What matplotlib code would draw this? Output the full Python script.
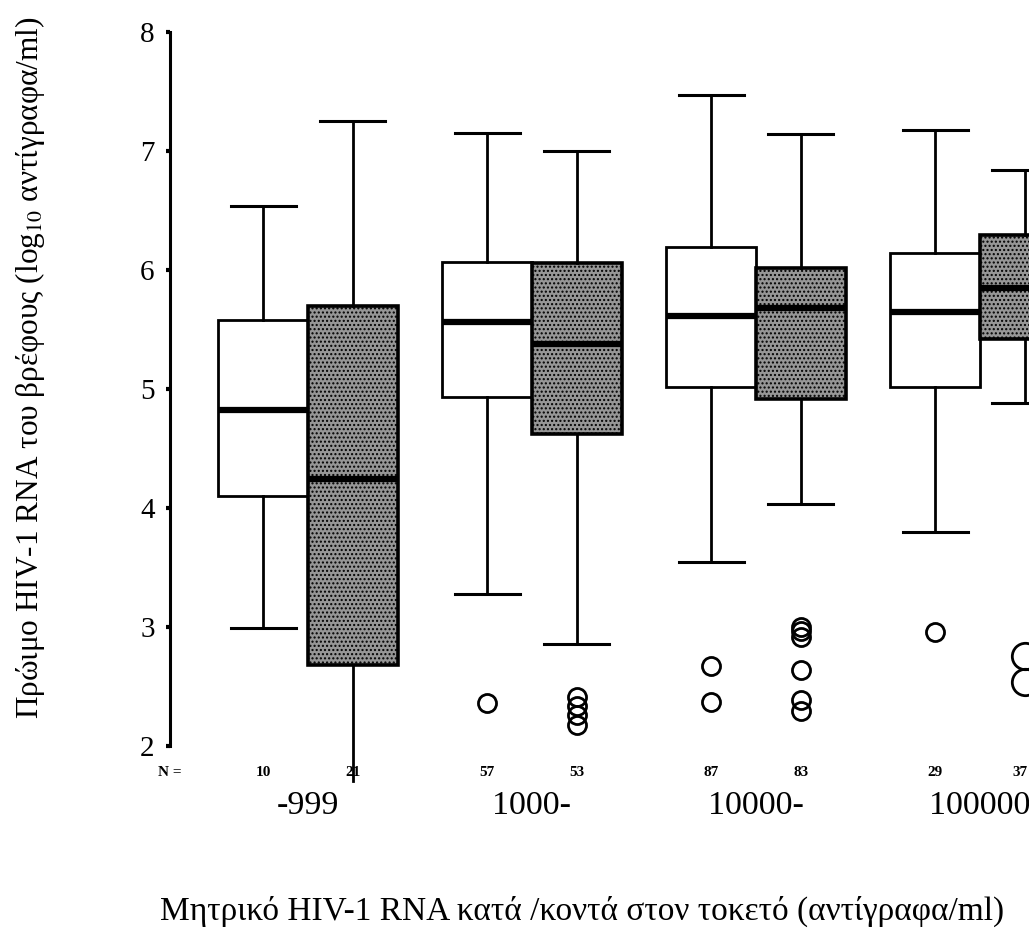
import numpy as np
import matplotlib.pyplot as plt

plt.rcParams['font.family'] = ['Liberation Serif', 'DejaVu Serif']
plt.rcParams['mathtext.fontset'] = 'stix'
plt.rcParams['hatch.color'] = '#3a3a3a'

# maternal HIV-1 RNA groups
groups = ['-999', '1000-', '10000-', '100000']
n_white = [10, 57, 87, 29]
n_grey = [21, 53, 83, 37]

# white boxes: lower whisker, Q1, median, Q3, upper whisker
white_lo = [2.99, 3.28, 3.55, 3.80]
white_q1 = [4.10, 4.93, 5.02, 5.02]
white_med = [4.82, 5.56, 5.61, 5.65]
white_q3 = [5.58, 6.07, 6.19, 6.14]
white_hi = [6.54, 7.15, 7.47, 7.18]
white_out = [[], [2.36], [2.67, 2.37], [2.96]]

# shaded boxes
grey_lo = [1.71, 2.86, 4.03, 4.88]
grey_q1 = [2.68, 4.62, 4.92, 5.42]
grey_med = [4.24, 5.38, 5.68, 5.85]
grey_q3 = [5.70, 6.06, 6.02, 6.29]
grey_hi = [7.25, 7.00, 7.14, 6.84]
grey_out = [[], [2.41, 2.34, 2.26, 2.18], [3.00, 2.97, 2.92, 2.64, 2.39, 2.29], [2.76, 2.54]]

def make_stats(lo, q1, med, q3, hi, out):
    return [dict(whislo=a, q1=b, med=c, q3=d, whishi=e, fliers=f)
            for a, b, c, d, e, f in zip(lo, q1, med, q3, hi, out)]

fig = plt.figure(figsize=(10.29, 9.36), dpi=100)
ax = fig.add_axes([170/1029, 190/936, 859/1029, 714/936])

x = np.arange(len(groups))
ws = make_stats(white_lo, white_q1, white_med, white_q3, white_hi, white_out)
gs = make_stats(grey_lo, grey_q1, grey_med, grey_q3, grey_hi, grey_out)

common = dict(widths=0.4, capwidths=0.29, patch_artist=True,
              whiskerprops=dict(color='black', lw=2),
              capprops=dict(color='black', lw=2.2),
              medianprops=dict(color='black', lw=4.5))
b1 = ax.bxp(ws, positions=x - 0.2,
            boxprops=dict(facecolor='white', edgecolor='black', lw=2),
            flierprops=dict(marker='o', mfc='none', mec='black', ms=13, mew=2),
            **common)
b2 = ax.bxp(gs, positions=x + 0.2,
            boxprops=dict(facecolor='#969696', edgecolor='black', lw=2.6, hatch='....'),
            flierprops=dict(marker='o', mfc='none', mec='black', ms=13, mew=2),
            **common)
for b in (b1, b2):
    for key in b:
        for art in b[key]:
            art.set_clip_on(False)
# the lowest shaded whisker runs past the axis without a cap
b2['caps'][0].set_visible(False)
# bigger circles on the last shaded box
b2['fliers'][3].set_markersize(19)

ax.set_xlim(-0.616, 3.219)
ax.set_ylim(2, 8)
ax.set_yticks([2, 3, 4, 5, 6, 7, 8])
ax.tick_params(axis='y', direction='out', length=3, width=3, labelsize=21, pad=8)
ax.set_xticks([])
for s in ['top', 'right', 'bottom']:
    ax.spines[s].set_visible(False)
ax.spines['left'].set_linewidth(2.2)

ax.text(-0.616, 1.78, 'N =', ha='center', va='center', fontsize=11, fontweight='bold', clip_on=False)
for i in range(len(groups)):
    ax.text(x[i] - 0.2, 1.78, str(n_white[i]), ha='center', va='center',
            fontsize=11, fontweight='bold', clip_on=False)
    # last count sits right at the cropped edge, nudge it in
    gx = x[i] + 0.2 if i < len(groups) - 1 else x[i] + 0.18
    ax.text(gx, 1.78, str(n_grey[i]), ha='center', va='center',
            fontsize=11, fontweight='bold', clip_on=False)
    ax.text(x[i], 1.50, groups[i], ha='center', va='center', fontsize=24.5, clip_on=False)

fig.text(0.029, 0.607, 'Πρώιμο HIV-1 RNA του βρέφους (log$_{10}$ αντίγραφα/ml)',
         rotation=90, ha='center', va='center', fontsize=22.5)
fig.text(0.566, 0.026, 'Μητρικό HIV-1 RNA κατά /κοντά στον τοκετό (αντίγραφα/ml)',
         ha='center', va='center', fontsize=24)

fig.savefig('out.png', dpi=100)
